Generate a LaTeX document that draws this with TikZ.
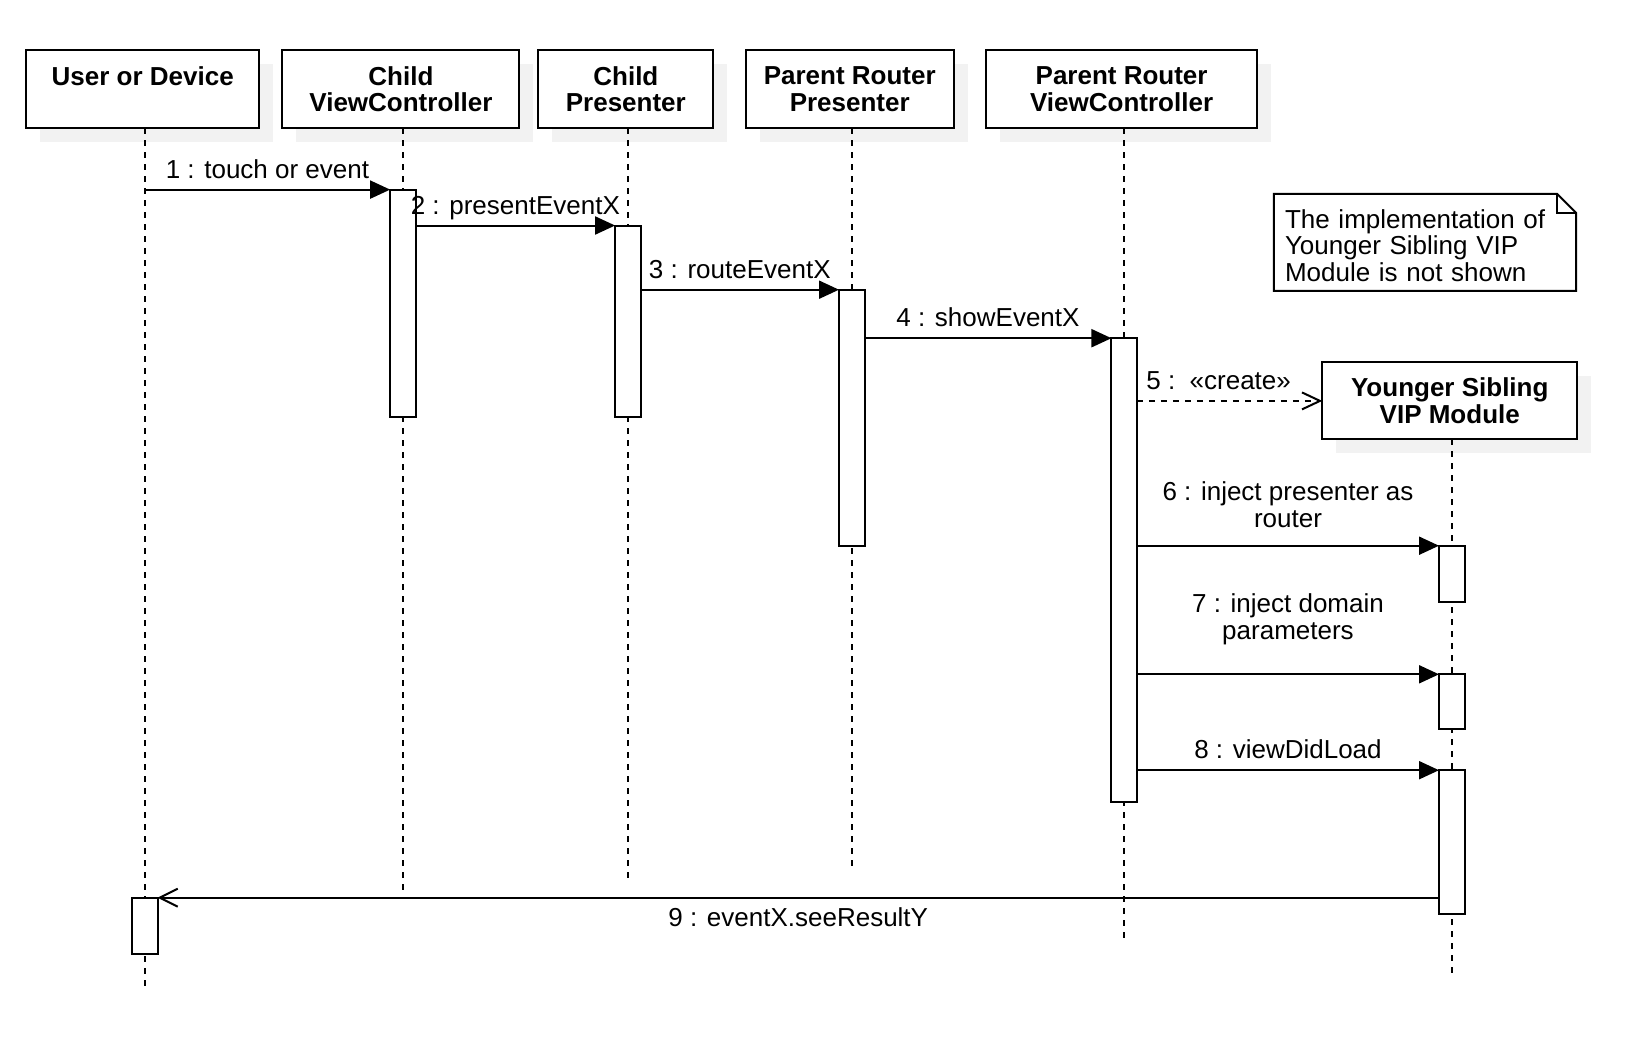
\documentclass[tikz,border=0pt]{standalone}
\usepackage{fontspec}
\setmainfont{Liberation Sans}
\usepackage{xcolor}
\usepackage{tikz}
\usetikzlibrary{positioning,arrows.meta,fit,calc,shadows}
\definecolor{ink}{HTML}{000000}
\definecolor{shade}{HTML}{F2F2F2}
\tikzset{
    head/.style={rectangle, draw=ink, fill=white, line width=1pt, align=center, minimum height=39.25pt, inner sep=0pt, outer sep=0pt, font=\fontsize{13}{13.2}\selectfont\bfseries, general shadow={fill=shade, draw=none, shadow xshift=7pt, shadow yshift=-7pt}},
    life/.style={draw=ink, line width=1pt, dash pattern=on 3pt off 3pt},
    act/.style={rectangle, draw=ink, fill=white, line width=1pt, minimum width=12.75pt, inner sep=0pt, outer sep=0pt},
    call/.style={-{Triangle[length=10pt, width=9pt]}, line width=1pt, color=ink},
    create/.style={-{Straight Barb[length=9pt, width=8.5pt]}, line width=1pt, color=ink, dash pattern=on 3pt off 3pt},
    reply/.style={-{Straight Barb[length=9pt, width=9pt]}, line width=1pt, color=ink},
    msg/.style={font=\fontsize{13}{13.2}\selectfont, text=ink, inner sep=0pt, align=center},
    remark/.style={font=\fontsize{13}{13.2}\selectfont, align=left, text width=140pt, inner xsep=5.5pt, inner ysep=0pt, outer sep=0pt, minimum width=151.2pt, minimum height=48.45pt},
    fold/.style={draw=ink, line width=1pt, line join=miter}
}

\begin{document}
\begin{tikzpicture}[x=0.5pt, y=-0.5pt]

\useasboundingbox (0,0) rectangle (1652,1044);

\node[head, minimum width=116.45pt] (user) at (142.75,89) {User or Device\\\mbox{}};

\node[head, minimum width=118.5pt, right=11.6pt of user] (childvc) {Child\\ViewController};

\node[head, minimum width=87.45pt, right=9.5pt of childvc] (childpres) {Child\\Presenter};

\node[head, minimum width=103.75pt, right=16.35pt of childpres] (parentpres) {Parent Router\\Presenter};

\node[head, minimum width=135.4pt, right=16.35pt of parentpres] (parentvc) {Parent Router\\ViewController};

\node[head, minimum width=127.45pt, minimum height=38.5pt] (sibling) at (1449.75,400.9) {Younger Sibling\\VIP Module};

\node[remark] (remark) at (1425,242.35) {\rule{0pt}{12.6pt}The implementation of\\Younger Sibling VIP\\Module is not shown};
\draw[fold] (remark.north west) -- ([xshift=-9.5pt]remark.north east) -- ([yshift=-9.5pt]remark.north east) -- (remark.south east) -- (remark.south west) -- cycle;
\draw[fold] ([xshift=-9.5pt]remark.north east) -- ([xshift=-9.5pt, yshift=-9.5pt]remark.north east) -- ([yshift=-9.5pt]remark.north east);

\coordinate (usertop) at ([xshift=1pt]user.south);
\coordinate (childvctop) at ([xshift=1pt]childvc.south);
\coordinate (childprestop) at ([xshift=1pt]childpres.south);
\coordinate (parentprestop) at ([xshift=1pt]parentpres.south);
\coordinate (parentvctop) at ([xshift=1.3pt]parentvc.south);
\coordinate (siblingtop) at ([xshift=1pt]sibling.south);

\coordinate (userend) at (usertop |- 0,988);
\coordinate (childvcend) at (childvctop |- 0,895.5);
\coordinate (childpresend) at (childprestop |- 0,880.8);
\coordinate (parentpresend) at (parentprestop |- 0,866);
\coordinate (parentvcend) at (parentvctop |- 0,939.8);
\coordinate (siblingend) at (siblingtop |- 0,976.7);

\draw[life] (usertop) -- (userend);
\draw[life] (childvctop) -- (childvcend);
\draw[life] (childprestop) -- (childpresend);
\draw[life] (parentprestop) -- (parentpresend);
\draw[life] (parentvctop) -- (parentvcend);
\draw[life] (siblingtop) -- (siblingend);

\node[act, fit={(childvctop |- 0,189.6) (childvctop |- 0,417.2)}] (actchildvc) {};
\node[act, fit={(childprestop |- 0,225.5) (childprestop |- 0,417.2)}] (actchildpres) {};
\node[act, fit={(parentprestop |- 0,289.7) (parentprestop |- 0,545.7)}] (actparentpres) {};
\node[act, fit={(parentvctop |- 0,338.2) (parentvctop |- 0,801.8)}] (actparentvc) {};
\node[act, fit={(siblingtop |- 0,545.7) (siblingtop |- 0,601.6)}] (actsiblinga) {};
\node[act, fit={(siblingtop |- 0,674.3) (siblingtop |- 0,729)}] (actsiblingb) {};
\node[act, fit={(siblingtop |- 0,770.2) (siblingtop |- 0,913.5)}] (actsiblingc) {};
\node[act, fit={(usertop |- 0,897.7) (usertop |- 0,953.5)}] (actuser) {};

\draw[call] (usertop |- actchildvc.north) -- (actchildvc.north west) node[msg, midway, anchor=base, yshift=5.7pt] {1 : touch or event};

\draw[call] (actchildvc.east |- actchildpres.north) -- (actchildpres.north west) node[msg, midway, anchor=base, yshift=5.7pt] {2 : presentEventX};

\draw[call] (actchildpres.east |- actparentpres.north) -- (actparentpres.north west) node[msg, midway, anchor=base, yshift=5.7pt] {3 : routeEventX};

\draw[call] (actparentpres.east |- actparentvc.north) -- (actparentvc.north west) node[msg, midway, anchor=base, yshift=5.7pt] {4 : showEventX};

\draw[create] (actparentvc.east |- sibling.west) -- (sibling.west) node[msg, midway, anchor=base, yshift=5.7pt, xshift=-5.5pt] {5 :\ \ «create»};

\draw[call] (actparentvc.east |- actsiblinga.north) -- (actsiblinga.north west) node[msg, midway, anchor=south, yshift=8.7pt] {6 : inject presenter as\\router};

\draw[call] (actparentvc.east |- actsiblingb.north) -- (actsiblingb.north west) node[msg, midway, anchor=south, yshift=14.4pt] {7 : inject domain\\parameters};

\draw[call] (actparentvc.east |- actsiblingc.north) -- (actsiblingc.north west) node[msg, midway, anchor=base, yshift=5.9pt] {8 : viewDidLoad};

\draw[reply] (actsiblingc.west |- actuser.north) -- (actuser.north east) node[msg, midway, anchor=base, yshift=-14.2pt] {9 : eventX.seeResultY};

\end{tikzpicture}
\end{document}
